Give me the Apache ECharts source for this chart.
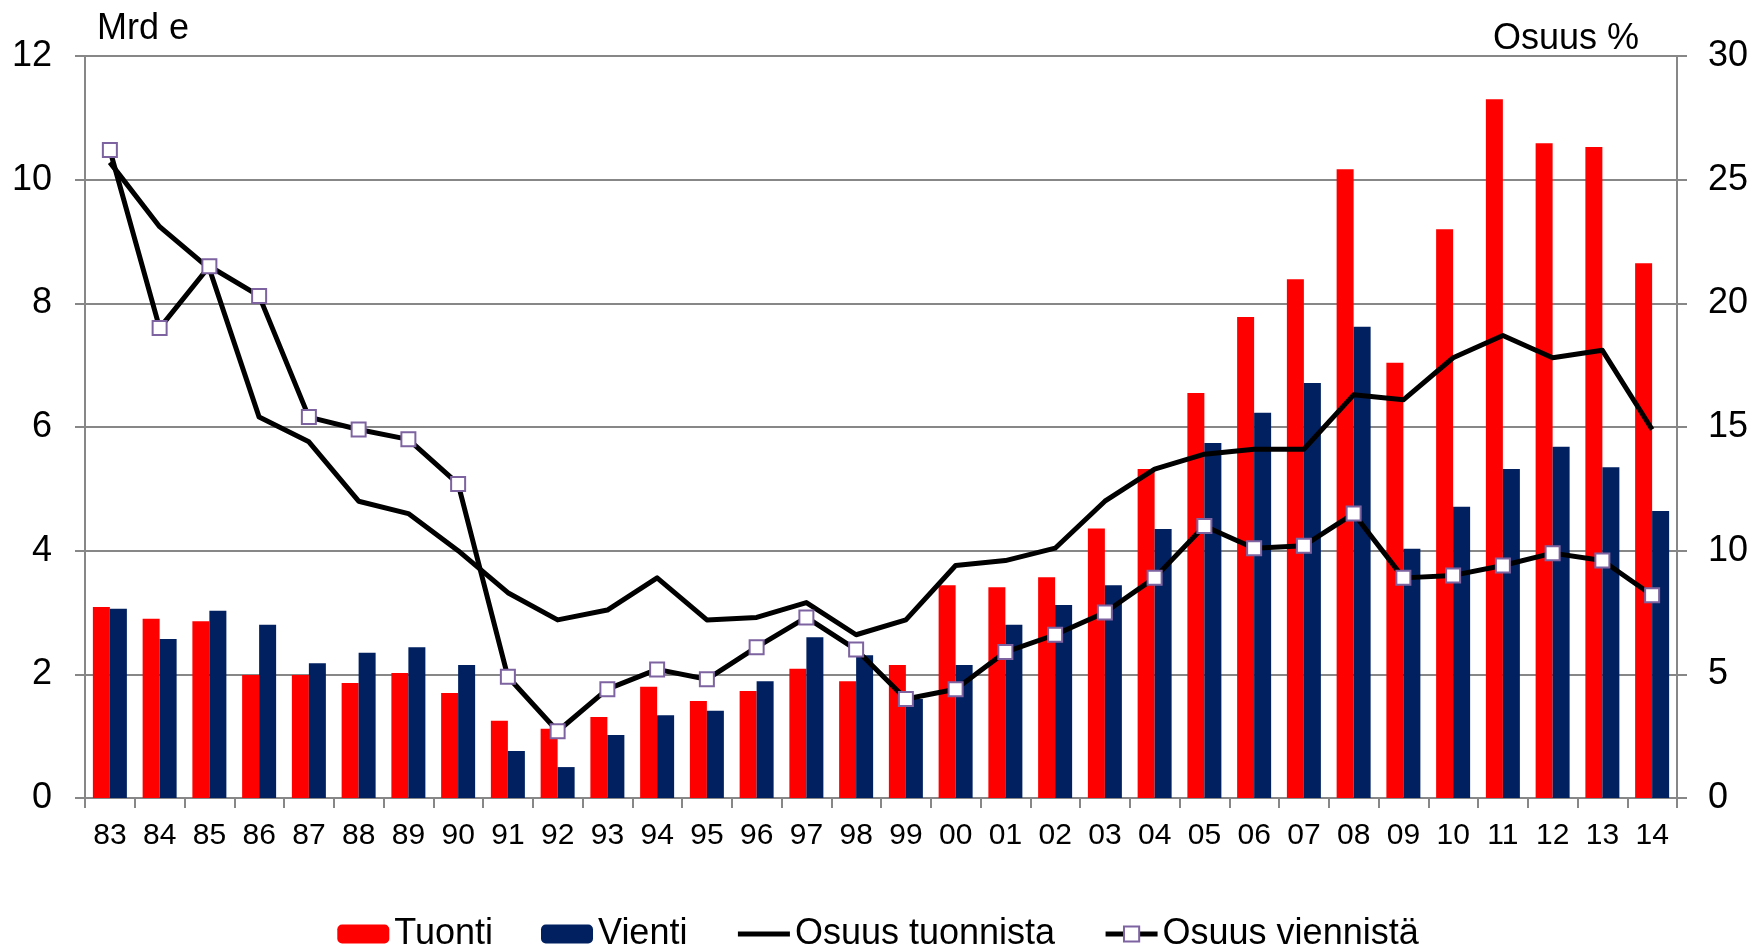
<!DOCTYPE html>
<html>
<head>
<meta charset="utf-8">
<title>Tuonti ja vienti</title>
<script src="https://cdn.jsdelivr.net/npm/echarts@6/dist/echarts.min.js"></script>
<style>
  html, body { margin: 0; padding: 0; background: #ffffff; }
  #chart { width: 1756px; height: 952px; }
</style>
</head>
<body>
<div id="chart"></div>
<script>
// Vuodet (kaksinumeroisina)
const categories = ['83','84','85','86','87','88','89','90','91','92','93','94','95','96','97','98','99',
                    '00','01','02','03','04','05','06','07','08','09','10','11','12','13','14'];

// Mrd e
const tuonti = [3.09, 2.90, 2.86, 1.99, 1.99, 1.86, 2.02, 1.70, 1.25, 1.12, 1.31, 1.80, 1.57, 1.73, 2.09, 1.89, 2.15,
                3.44, 3.41, 3.57, 4.36, 5.32, 6.55, 7.78, 8.39, 10.17, 7.04, 9.20, 11.30, 10.59, 10.53, 8.65];
const vienti = [3.06, 2.57, 3.03, 2.80, 2.18, 2.35, 2.44, 2.15, 0.76, 0.50, 1.02, 1.34, 1.41, 1.89, 2.60, 2.31, 1.60,
                2.15, 2.80, 3.12, 3.44, 4.35, 5.74, 6.23, 6.71, 7.62, 4.03, 4.71, 5.32, 5.68, 5.35, 4.64];

// Osuus %
const osuusTuonnista = [25.7, 23.1, 21.4, 15.4, 14.4, 12.0, 11.5, 10.0, 8.3, 7.2, 7.6, 8.9, 7.2, 7.3, 7.9, 6.6, 7.2,
                        9.4, 9.6, 10.1, 12.0, 13.3, 13.9, 14.1, 14.1, 16.3, 16.1, 17.8, 18.7, 17.8, 18.1, 14.9];
const osuusViennista = [26.2, 19.0, 21.5, 20.3, 15.4, 14.9, 14.5, 12.7, 4.9, 2.7, 4.4, 5.2, 4.8, 6.1, 7.3, 6.0, 4.0,
                        4.4, 5.9, 6.6, 7.5, 8.9, 11.0, 10.1, 10.2, 11.5, 8.9, 9.0, 9.4, 9.9, 9.6, 8.2];

const FONT = '"Liberation Sans", Arial, Helvetica, sans-serif';
const GRID_GRAY = '#878787';

const chart = echarts.init(document.getElementById('chart'), null, { renderer: 'canvas' });

chart.setOption({
  animation: false,
  backgroundColor: '#ffffff',
  textStyle: { fontFamily: FONT, color: '#000000' },
  grid: { left: 85, right: 79, top: 56, bottom: 154, containLabel: false },
  graphic: [
    {
      type: 'text', x: 97, y: 29,
      style: { text: 'Mrd e', font: '36px ' + FONT, fill: '#000000', align: 'left', verticalAlign: 'middle' }
    },
    {
      type: 'text', x: 1493, y: 39,
      style: { text: 'Osuus %', font: '36px ' + FONT, fill: '#000000', align: 'left', verticalAlign: 'middle' }
    }
  ],
  legend: {
    left: 'center',
    top: 916,
    padding: 0,
    itemGap: 48,
    itemWidth: 52,
    itemHeight: 19,
    textStyle: { fontFamily: FONT, fontSize: 36, color: '#000000' },
    data: [
      'Tuonti',
      'Vienti',
      {
        name: 'Osuus tuonnista',
        // plain black line, marker hidden
        lineStyle: { width: 5, color: '#000000' },
        itemStyle: { opacity: 0 }
      },
      {
        name: 'Osuus viennistä',
        lineStyle: { width: 5, color: '#000000' },
        itemStyle: { color: '#ffffff', borderColor: '#7e63a1', borderWidth: 2 }
      }
    ]
  },
  xAxis: {
    type: 'category',
    data: categories,
    boundaryGap: true,
    axisLine: { show: true, lineStyle: { color: GRID_GRAY, width: 2 } },
    axisTick: { show: true, length: 10, alignWithLabel: false, lineStyle: { color: GRID_GRAY, width: 2 } },
    axisLabel: { fontFamily: FONT, fontSize: 30, color: '#000000', margin: 23, interval: 0 },
    splitLine: { show: false }
  },
  yAxis: [
    {
      type: 'value',
      min: 0, max: 12, interval: 2,
      position: 'left',
      axisLine: { show: true, lineStyle: { color: GRID_GRAY, width: 2 } },
      axisTick: { show: true, length: 10, lineStyle: { color: GRID_GRAY, width: 2 } },
      axisLabel: { fontFamily: FONT, fontSize: 36, color: '#000000', margin: 33 },
      splitLine: { show: true, lineStyle: { color: GRID_GRAY, width: 2 } }
    },
    {
      type: 'value',
      min: 0, max: 30, interval: 5,
      position: 'right',
      axisLine: { show: true, lineStyle: { color: GRID_GRAY, width: 2 } },
      axisTick: { show: true, length: 10, lineStyle: { color: GRID_GRAY, width: 2 } },
      axisLabel: { fontFamily: FONT, fontSize: 36, color: '#000000', margin: 31 },
      splitLine: { show: false }
    }
  ],
  series: [
    {
      name: 'Tuonti',
      type: 'bar',
      yAxisIndex: 0,
      data: tuonti,
      barWidth: 17,
      barGap: '0%',
      itemStyle: { color: '#ff0000' }
    },
    {
      name: 'Vienti',
      type: 'bar',
      yAxisIndex: 0,
      data: vienti,
      barWidth: 17,
      barGap: '0%',
      itemStyle: { color: '#002060' }
    },
    {
      name: 'Osuus tuonnista',
      type: 'line',
      yAxisIndex: 1,
      data: osuusTuonnista,
      symbol: 'none',
      lineStyle: { color: '#000000', width: 5, join: 'round' },
      itemStyle: { color: '#000000' },
      z: 3
    },
    {
      name: 'Osuus viennistä',
      type: 'line',
      yAxisIndex: 1,
      data: osuusViennista,
      symbol: 'rect',
      symbolSize: 14,
      showAllSymbol: true,
      lineStyle: { color: '#000000', width: 5, join: 'round' },
      itemStyle: { color: '#ffffff', borderColor: '#7e63a1', borderWidth: 2 },
      z: 4
    }
  ]
});
</script>
</body>
</html>
